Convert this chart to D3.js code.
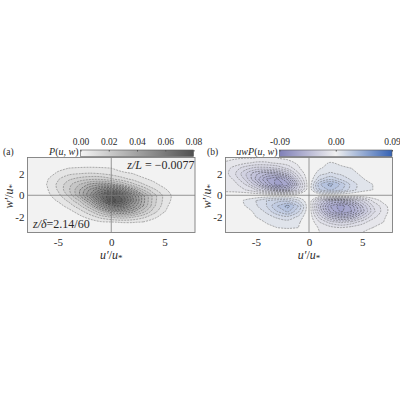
<!DOCTYPE html>
<html><head><meta charset="utf-8">
<style>
html,body{margin:0;padding:0;background:#fff}
svg{display:block}
text{font-family:"Liberation Serif",serif;fill:#2a2a2a}
.m{font-style:italic}
</style>
<script src="https://cdn.jsdelivr.net/npm/d3@7"></script>
</head><body><svg id="c" width="400" height="400"></svg>
<script>
// grid of readings, in units of 1e-3
const uGrid=[-8,-7,-6,-5,-4,-3,-2,-1,0,1,2,3,4,5,6,7,8];
const wGrid=[3.5,3,2.5,2,1.5,1,0.5,0,-0.5,-1,-1.5,-2,-2.5,-3,-3.5];
const pTable=[
[0,0,0,0,0,.5,.5,0,0,0,0,0,0,0,0,0,0],
[0,0,0,0,1,2,2.5,2,1,.5,0,0,0,0,0,0,0],
[0,0,0,3,5.1,5.5,5.6,5.5,5.1,3,1.5,.5,0,0,0,0,0],
[0,0,2,6.3,8.8,10,10.5,10,8.1,6.3,5.1,2.5,1,0,0,0,0],
[0,.5,4.5,9.4,14,17,19,19,16,12,8.8,6,3.5,.5,0,0,0],
[0,.5,5.3,11,18,25,31,34,32,25,17,10.5,6.5,3,.5,0,0],
[0,0,4.5,10.5,19,29,41,51,55,47,33,20,11,6,1.5,0,0],
[0,0,3.5,8.1,16,29,45,63,75,67,49,31,17,8.1,3,0,0],
[0,0,2,5.6,11,20,35,55,78,71,52,32,17,8.1,2.5,0,0],
[0,0,.5,2.5,6.9,13,24,40,55,57,45,30,16,6.9,1,0,0],
[0,0,0,.5,3,7.5,14,24,34,37,32,22,12,5.3,.5,0,0],
[0,0,0,0,.5,3.5,7.3,12,16,18,16,11.5,6.9,1.5,0,0,0],
[0,0,0,0,0,.5,2,4,4.5,5.3,5.3,4.5,1.5,0,0,0,0],
[0,0,0,0,0,0,0,0,0,.5,.5,0,0,0,0,0,0],
[0,0,0,0,0,0,0,0,0,0,0,0,0,0,0,0,0]];
const uwTable=[
[-3,-4,-4.5,-5,-5,-5,-3.5,-2,0,0,0,0,0,0,0,0,0],
[-5.5,-7,-9,-11,-11,-9,-7,-4,0,3,5.5,4,1.5,.5,0,0,0],
[-7,-12,-18,-22,-22,-20,-14,-6,0,4.5,7,6,5,2,.5,0,0],
[-7,-14,-24,-34,-39,-38,-28,-11,0,8,11,9,6.5,4,1,0,0],
[-6,-11,-21,-36,-50,-56,-44,-18,0,14,19,14,9,5.5,3,.5,0],
[-5,-8,-15,-27,-44,-58,-52,-25,0,24,32,24,13,7,5,1,0],
[-7,-8,-10,-15,-26,-36,-36,-20,0,20,26,21,12,7,5,1,0],
[0,0,0,0,0,0,0,0,0,0,0,0,0,0,0,0,0],
[0,1,6,10,15,18,18,11,0,-22,-38,-40,-32,-20,-9,-3,-.5],
[0,.5,5,9,15,25,32,20,0,-28,-50,-58,-48,-30,-15,-7,-1],
[0,0,2,6.5,11,20,26,16,0,-25,-46,-56,-50,-33,-17,-7.5,-1.5],
[0,0,.5,5,8,11,14,9,0,-17,-32,-38,-35,-23,-12,-6,-1],
[0,0,0,2,5.5,7,7.5,6,0,-10,-17,-21,-18,-12,-7,-5,-.5],
[0,0,0,0,3,5,5.5,5,0,-6,-8,-10,-8,-6.5,-5,-2,0],
[0,0,0,0,.5,2,2,1.5,0,-5,-5.5,-6,-5.5,-5,-2,-.5,0]];
const lineLevels=[5,10,15,20,25,30,35,40,45,50,55,60,65,70,75];
const xTicks=[-5,0,5], yTicks=[-2,0,2];
const pBarTicks=[0,0.02,0.04,0.06,0.08];
const uwBarTicks=[-0.09,0,0.09];

const svg=d3.select("#c");
const BG="#f2f2f2", FRAME="#7d7d7d";
const plotTop=157.5,plotBottom=232.5;
const y=d3.scaleLinear().domain([3.5,-3.45]).range([plotTop,plotBottom]);
const nx=uGrid.length,ny=wGrid.length;

function rings(gen,values,level){
  return gen.contour(values,level).coordinates.flat();
}
function panel(id,left,right,draw){
  const x=d3.scaleLinear().domain([-7.85,7.85]).range([left,right]);
  const gx=d3.scaleLinear().domain([.5,nx-.5]).range([x(uGrid[0]),x(uGrid[nx-1])]);
  const gy=d3.scaleLinear().domain([.5,ny-.5]).range([y(wGrid[0]),y(wGrid[ny-1])]);
  const line=d3.line().x(d=>gx(d[0])).y(d=>gy(d[1])).curve(d3.curveCatmullRomClosed.alpha(.5));
  const pathOf=rs=>rs.map(r=>line(r.slice(0,-1))).join("");
  svg.append("clipPath").attr("id",id).append("rect").attr("x",left).attr("y",plotTop).attr("width",right-left).attr("height",plotBottom-plotTop);
  svg.append("rect").attr("x",left).attr("y",plotTop).attr("width",right-left).attr("height",plotBottom-plotTop).attr("fill",BG);
  const g=svg.append("g").attr("clip-path",`url(#${id})`);
  draw(g,pathOf);
  g.append("line").attr("x1",x(0)).attr("x2",x(0)).attr("y1",plotTop).attr("y2",plotBottom).attr("stroke",FRAME).attr("stroke-width",.8);
  g.append("line").attr("x1",left).attr("x2",right).attr("y1",y(0)).attr("y2",y(0)).attr("stroke",FRAME).attr("stroke-width",.8);
  svg.append("rect").attr("x",left).attr("y",plotTop).attr("width",right-left).attr("height",plotBottom-plotTop).attr("fill","none").attr("stroke",FRAME).attr("stroke-width",.9);
  const fmt=d=>d<0?"-"+(-d):""+d;
  const ax=svg.append("g").attr("transform",`translate(0,${plotBottom})`).call(d3.axisBottom(x).tickValues(xTicks).tickSize(0).tickPadding(6).tickFormat(fmt));
  ax.select(".domain").remove();
  ax.selectAll("text").attr("font-size",11);
  const ay=svg.append("g").attr("transform",`translate(${left},0)`).call(d3.axisLeft(y).tickValues(yTicks).tickSize(0).tickPadding(3).tickFormat(fmt));
  ay.select(".domain").remove();
  ay.selectAll("text").attr("font-size",11);
  const xl=svg.append("text").attr("x",x(0)).attr("y",259).attr("text-anchor","middle").attr("font-size",12);
  math(xl,"u′","u");
  const yl=svg.append("text").attr("transform",`translate(${left-14.5},${y(0)+1}) rotate(-90)`).attr("text-anchor","middle").attr("font-size",12);
  math(yl,"w′","u");
}
function math(t,a,b){
  t.append("tspan").attr("class","m").text(a);
  t.append("tspan").text("/");
  t.append("tspan").attr("class","m").text(b);
  t.append("tspan").attr("font-size",9).attr("dy",2).text("*");
}
function contourLayers(g,pathOf,flat,sign,color){
  const gen=d3.contours().size([nx,ny]);
  const vals=flat.map(v=>v*sign);
  const maxV=d3.max(vals);
  const used=lineLevels.filter(l=>l<maxV);
  used.forEach(l=>{
    g.append("path").attr("d",pathOf(rings(gen,vals,l))).attr("fill",color((l+2.5)*sign)).attr("fill-rule","evenodd");
  });
  used.forEach(l=>{
    g.append("path").attr("d",pathOf(rings(gen,vals,l))).attr("fill","none")
     .attr("stroke",l>25?"#333":"#666").attr("stroke-width",.6).attr("stroke-dasharray","2 1").attr("stroke-opacity",.85);
  });
}

// panel a
const pColor=d3.scaleLinear().domain([0,80]).range(["#f4f4f4","#505050"]);
panel("clipA",27.5,195,(g,pathOf)=>contourLayers(g,pathOf,pTable.flat(),1,pColor));

// panel b
const uwColor=d3.scaleLinear().domain([-90,0,90]).range(["#7272b4","#f0f0f0","#2f5cb8"]);
panel("clipB",225.5,392.5,(g,pathOf)=>{
  contourLayers(g,pathOf,uwTable.flat(),-1,uwColor);
  contourLayers(g,pathOf,uwTable.flat(),1,uwColor);
});

// colour bars
function colorbar(id,left,right,domain,stops,ticks,fmt){
  const s=d3.scaleLinear().domain(domain).range([left,right]);
  const grad=svg.append("linearGradient").attr("id",id);
  stops.forEach((c,i)=>grad.append("stop").attr("offset",i/(stops.length-1)).attr("stop-color",c));
  svg.append("rect").attr("x",left).attr("y",150).attr("width",right-left).attr("height",6.5).attr("fill",`url(#${id})`).attr("stroke","#555").attr("stroke-width",.6);
  const ax=svg.append("g").attr("transform","translate(0,150)").call(d3.axisTop(s).tickValues(ticks).tickSize(-1.5).tickPadding(5).tickFormat(fmt));
  ax.select(".domain").remove();
  ax.selectAll("line").attr("stroke","#555");
  ax.selectAll("text").attr("font-size",9.5);
}
colorbar("gA",80.5,193.5,[0,0.08],["#f4f4f4","#505050"],pBarTicks,d3.format(".2f"));
colorbar("gB",279.5,392,[-0.09,0.09],["#8080b8","#f0f0f0","#3562b4"],uwBarTicks,d=>d<0?"-"+d3.format(".2f")(-d):d3.format(".2f")(d));

// annotations
function label(x,yy,size,anchor,parts){
  const t=svg.append("text").attr("x",x).attr("y",yy).attr("font-size",size).attr("text-anchor",anchor);
  parts.forEach(p=>t.append("tspan").attr("class",p[1]?"m":null).text(p[0]));
}
label(3,155,9.5,"start",[["(a)",0]]);
label(207,155,9.5,"start",[["(b)",0]]);
label(78.5,155,10,"end",[["P",1],["(",0],["u, w",1],[")",0]]);
label(277.5,155,10,"end",[["uwP",1],["(",0],["u, w",1],[")",0]]);
label(194.5,168.5,12,"end",[["z/L",1],[" = −0.0077",0]]);
label(33,228,12,"start",[["z/δ",1],["=2.14/60",0]]);
</script></body></html>
